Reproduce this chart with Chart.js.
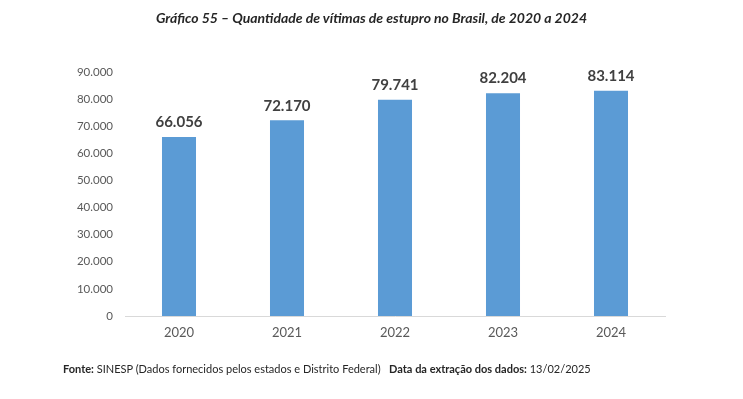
<!DOCTYPE html>
<html>
<head>
<meta charset="utf-8">
<script src="https://cdn.jsdelivr.net/npm/chart.js@4/dist/chart.umd.min.js"></script>
<style>
  html,body{margin:0;padding:0;background:#fff;}
  #wrap{position:relative;width:743px;height:399px;overflow:hidden;}
  #c{position:absolute;left:0;top:0;}
  #title{position:absolute;left:0;width:743px;top:9px;text-align:center;font-family:Lato,"Open Sans",sans-serif;font-style:italic;font-weight:bold;font-size:14px;color:#262626;}
  #foot{position:absolute;left:63px;top:362px;font-family:Lato,"Open Sans",sans-serif;font-size:11px;color:#262626;white-space:nowrap;}
</style>
</head>
<body>
<div id="wrap">
  <canvas id="c" width="743" height="399"></canvas>
  <div id="title">Gráfico 55 – Quantidade de vítimas de estupro no Brasil, de 2020 a 2024</div>
  <div id="foot"><b>Fonte:</b> SINESP (Dados fornecidos pelos estados e Distrito Federal)&nbsp;&nbsp;&nbsp;<b>Data da extração dos dados:</b> 13/02/2025</div>
</div>
<script>
const categories = ["2020", "2021", "2022", "2023", "2024"];
const victims = [66056, 72170, 79741, 82204, 83114];
const yTicks = [0, 10000, 20000, 30000, 40000, 50000, 60000, 70000, 80000, 90000];

function fmt(v){ return String(v).replace(/\B(?=(\d{3})+(?!\d))/g, "."); }

const labelPlugin = {
  id: "barLabels",
  afterDatasetsDraw(chart){
    const ctx = chart.ctx;
    const meta = chart.getDatasetMeta(0);
    ctx.save();
    ctx.font = "bold 15px Lato, 'Open Sans', sans-serif";
    ctx.fillStyle = "#404040";
    ctx.textAlign = "center";
    ctx.textBaseline = "bottom";
    meta.data.forEach((bar, i) => {
      ctx.fillText(fmt(victims[i]), bar.x, bar.y - 7);
    });
    ctx.restore();
  }
};

new Chart(document.getElementById("c"), {
  type: "bar",
  data: {
    labels: categories,
    datasets: [{
      data: victims,
      backgroundColor: "#5b9bd5",
      borderWidth: 0,
      categoryPercentage: 1,
      barPercentage: 0.315
    }]
  },
  options: {
    responsive: false,
    animation: false,
    devicePixelRatio: 1,
    layout: { padding: { left: 53, right: 78, top: 72, bottom: 53 } },
    plugins: { legend: { display: false }, tooltip: { enabled: false }, title: { display: false } },
    scales: {
      x: {
        grid: { display: false, drawTicks: false },
        border: { display: true, color: "#d9d9d9", width: 1 },
        ticks: { color: "#595959", font: { family: "Lato, 'Open Sans', sans-serif", size: 13 }, padding: 9 },
        afterFit(s){ s.height = 30; }
      },
      y: {
        min: 0, max: 90000,
        afterBuildTicks(s){ s.ticks = yTicks.map(v => ({ value: v })); },
        grid: { display: false, drawTicks: false },
        border: { display: false },
        ticks: { color: "#595959", font: { family: "Lato, 'Open Sans', sans-serif", size: 11.5 }, padding: 12, callback: v => fmt(v) },
        afterFit(s){ s.width = 72; }
      }
    }
  },
  plugins: [labelPlugin]
});
</script>
</body>
</html>
